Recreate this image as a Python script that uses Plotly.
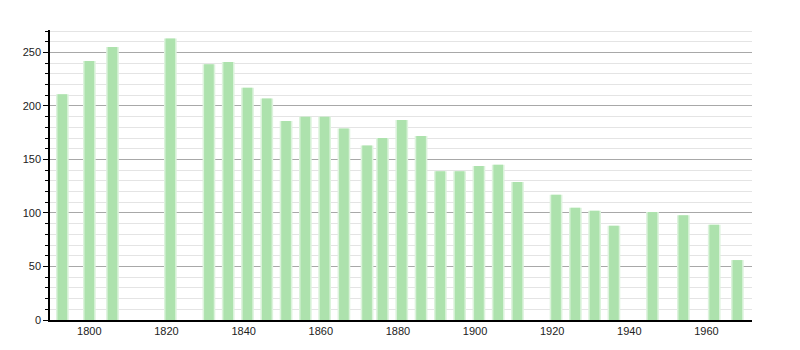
import plotly.graph_objects as go

years = [1793, 1800, 1806, 1821, 1831, 1836, 1841, 1846, 1851, 1856, 1861, 1866,
         1872, 1876, 1881, 1886, 1891, 1896, 1901, 1906, 1911, 1921, 1926, 1931,
         1936, 1946, 1954, 1962, 1968]
population = [211, 242, 255, 263, 239, 241, 217, 207, 186, 190, 190, 179,
              163, 170, 187, 172, 139, 139, 144, 145, 129, 117, 105, 102,
              88, 101, 98, 89, 56]
x_ticks = [1800, 1820, 1840, 1860, 1880, 1900, 1920, 1940, 1960]
y_ticks = [0, 50, 100, 150, 200, 250]

fig = go.Figure()
# soft halo to mimic blurred bar edges
fig.add_trace(go.Bar(x=years, y=population, width=3.3,
                     marker=dict(color="#dcf3dc", line=dict(width=0)),
                     hoverinfo="skip"))
fig.add_trace(go.Bar(x=years, y=population, width=2.5,
                     marker=dict(color="#ade2ad", line=dict(width=0))))

fig.update_layout(
    width=800, height=350,
    margin=dict(l=50, r=48, t=30, b=30),
    paper_bgcolor="white", plot_bgcolor="white",
    barmode="overlay", showlegend=False,
    font=dict(family="Liberation Sans, Arial, sans-serif", size=11, color="#222"),
)
fig.update_xaxes(
    range=[1789.8, 1971.8], tickvals=x_ticks, showgrid=False,
    showline=True, linecolor="black", linewidth=1.5, ticks="", zeroline=False,
)
fig.update_yaxes(
    range=[0, 271], tickvals=y_ticks, showgrid=True, gridcolor="#a8a8a8", gridwidth=1,
    showline=True, linecolor="black", linewidth=1.5, ticks="outside", ticklen=5,
    tickcolor="black", zeroline=False,
    minor=dict(dtick=10, showgrid=True, gridcolor="#e4e4e4", ticks="outside",
               ticklen=3, tickcolor="black"),
)
fig.write_html("out.html")
